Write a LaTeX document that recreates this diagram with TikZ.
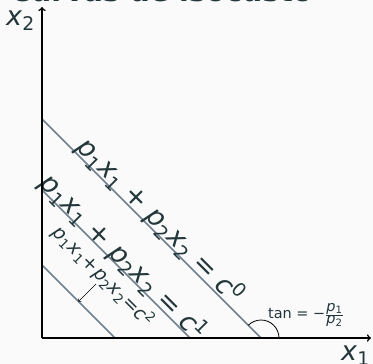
\documentclass[tikz,border=0pt]{standalone}
\usepackage{fontspec}
\setmainfont{DejaVu Sans}
\definecolor{txt}{HTML}{23373B}
\definecolor{bgc}{HTML}{FAFAFA}
\definecolor{iso}{RGB}{112,128,144}
\newcommand{\vr}[1]{\textit{#1}}
\newcommand{\isoeq}[1]{\vr{p}\textsubscript{1}\vr{x}\textsubscript{1} + \vr{p}\textsubscript{2}\vr{x}\textsubscript{2} = \vr{c}\textsuperscript{#1}}
\newcommand{\isoeqs}[1]{\vr{p}\textsubscript{1}\vr{x}\textsubscript{1}+\vr{p}\textsubscript{2}\vr{x}\textsubscript{2}=\vr{c}\textsuperscript{#1}}
\tikzset{
  biglab/.style={font=\fontsize{27}{30}\selectfont, text=txt, inner sep=0pt},
  midlab/.style={font=\fontsize{19}{22}\selectfont, text=txt, inner sep=0pt},
  smalllab/.style={font=\fontsize{14.5}{17}\selectfont, text=txt, inner sep=0pt},
  axis/.style={line width=1.6bp, black, ->},
  isoline/.style={line width=1.5bp, iso},
}
\begin{document}
\begin{tikzpicture}[x=1bp,y=-1bp]
\fill[bgc] (0,0) rectangle (373,364);
\useasboundingbox (0,0) rectangle (373,364);
% title (cut off at the top)
\node[anchor=base west, font=\fontsize{28.5}{30}\selectfont\bfseries, text=txt, inner sep=0pt] (title) at (10,1.5) {Curvas de isocusto};
% points
\coordinate (O) at (42,338);
\coordinate (Ytop) at (42,7);
\coordinate (Xend) at (371,338);
\coordinate (A0) at (42,119);
\coordinate (B0) at (261,338);
\coordinate (A1) at (42,190);
\coordinate (B1) at (190,338);
\coordinate (A2) at (42,265);
\coordinate (B2) at (115,338);
% isocost lines
\draw[isoline] (A0) -- (B0) coordinate[midway] (M0);
\draw[isoline] (A1) -- (B1) coordinate[midway] (M1);
\draw[isoline] (A2) -- (B2) coordinate[midway] (M2);
\path (M0) ++(2.5,-1.2) coordinate (P0);
\path (M1) ++(1.5,-0.3) coordinate (P1);
\path (M2) ++(20.5,-20.5) coordinate (P2);
\node[biglab, rotate=-45, anchor=base] (L0) at (P0) {\isoeq{0}};
\node[biglab, rotate=-45, anchor=base] (L1) at (P1) {\isoeq{1}};
\node[midlab, rotate=-45, anchor=base] (L2) at (P2) {\isoeqs{2}};
\draw[->, line width=0.6bp, black] (L2.south) -- (M2);
% angle
\draw[line width=0.8bp, black] (B0) ++(18,0) arc[start angle=0, end angle=-135, radius=18];
\node[smalllab] (T) at (306,315) {tan = −$\frac{\mbox{\vr{p}\textsubscript{1}}}{\mbox{\vr{p}\textsubscript{2}}}$};
% axes
\draw[axis] (O) -- (Ytop);
\draw[axis] (O) -- (Xend);
\node[biglab, anchor=base west] (x2) at (6,25) {\vr{x}\textsubscript{2}};
\node[biglab, anchor=base west] (x1) at (341,360) {\vr{x}\textsubscript{1}};
\end{tikzpicture}
\end{document}
